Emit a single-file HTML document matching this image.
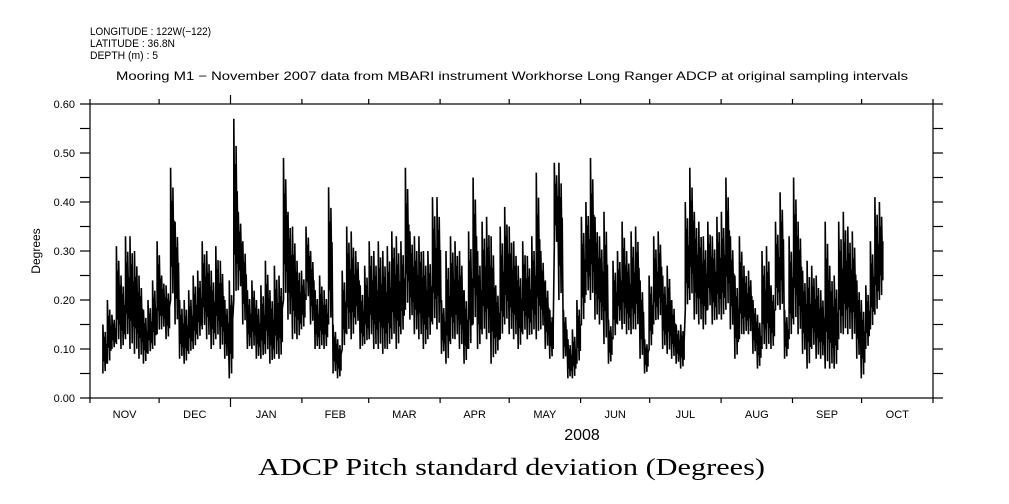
<!DOCTYPE html>
<html><head><meta charset="utf-8"><style>
body{margin:0;background:#fff;}
svg{display:block;}
text{font-family:"Liberation Sans",sans-serif;fill:#000;}
</style></head><body>
<svg id="chart" width="1009" height="504" viewBox="0 0 1009 504">
<g font-size="11">
<text x="90" y="35" textLength="121" lengthAdjust="spacingAndGlyphs">LONGITUDE : 122W(−122)</text>
<text x="90" y="47" textLength="85" lengthAdjust="spacingAndGlyphs">LATITUDE : 36.8N</text>
<text x="90" y="59" textLength="68" lengthAdjust="spacingAndGlyphs">DEPTH (m) : 5</text>
<text x="116" y="80" font-size="12" textLength="792" lengthAdjust="spacingAndGlyphs">Mooring M1 − November 2007 data from MBARI instrument Workhorse Long Ranger ADCP at original sampling intervals</text>
</g>
<rect x="90" y="104" width="843" height="294" fill="none" stroke="#000" stroke-width="1.2"/>
<g id="axes"></g>
<path id="series" fill="none" stroke="#000" stroke-width="1.6" stroke-linejoin="miter"/>
<text x="40" y="251" transform="rotate(-90 40 251)" text-anchor="middle" font-size="12">Degrees</text>
<text x="582" y="440" text-anchor="middle" font-size="16">2008</text>
<text x="258" y="475" font-size="24" textLength="507" lengthAdjust="spacingAndGlyphs" style="font-family:'Liberation Serif',serif">ADCP Pitch standard deviation (Degrees)</text>
</svg>
<script>
const monthLabels=["NOV","DEC","JAN","FEB","MAR","APR","MAY","JUN","JUL","AUG","SEP","OCT"];
const monthDays=[30,31,31,29,31,30,31,30,31,31,30,31];
const yTicks=[0,0.05,0.1,0.15,0.2,0.25,0.3,0.35,0.4,0.45,0.5,0.55,0.6];
const yLabels=["0.00","","0.10","","0.20","","0.30","","0.40","","0.50","","0.60"];
const binHigh=[.15,.20,.17,.31,.25,.33,.33,.30,.25,.18,.20,.24,.32,.25,.23,.47,.36,.20,.20,.22,.25,.26,.32,.30,.26,.31,.28,.20,.24,.57,.38,.32,.22,.24,.20,.23,.28,.22,.27,.25,.49,.38,.35,.28,.26,
.35,.30,.22,.25,.22,.43,.15,.12,.26,.35,.34,.30,.23,.27,.32,.30,.32,.30,.31,.34,.33,.32,.47,.34,.33,.33,.30,.30,.41,.41,.20,.30,.33,.32,.30,.22,.34,.45,.30,.36,.37,.33,.23,.35,.39,
.35,.32,.27,.32,.29,.33,.46,.30,.24,.18,.48,.48,.18,.12,.14,.20,.37,.40,.49,.37,.33,.38,.16,.28,.30,.36,.30,.34,.35,.24,.12,.25,.33,.34,.25,.27,.20,.15,.15,.40,.47,.38,.36,.33,
.36,.33,.37,.38,.45,.33,.25,.33,.27,.26,.20,.17,.30,.31,.23,.36,.42,.18,.33,.45,.36,.26,.28,.27,.25,.22,.36,.27,.25,.36,.38,.35,.34,.24,.20,.23,.32,.41,.40];
const binLow=[.05,.07,.10,.11,.10,.12,.10,.09,.08,.07,.09,.10,.13,.14,.12,.20,.15,.08,.07,.09,.10,.12,.14,.12,.10,.12,.10,.08,.04,.20,.22,.15,.10,.10,.08,.08,.09,.07,.08,.08,.20,.16,.12,.12,.14,
.20,.15,.10,.10,.10,.15,.05,.04,.10,.13,.12,.15,.10,.11,.12,.10,.10,.09,.10,.12,.10,.13,.18,.16,.13,.12,.10,.12,.15,.14,.09,.07,.11,.12,.10,.07,.10,.15,.10,.13,.12,.07,.09,.12,.15,
.13,.12,.10,.13,.12,.13,.12,.14,.10,.08,.31,.20,.08,.04,.04,.07,.15,.21,.20,.16,.15,.11,.07,.12,.15,.14,.13,.13,.14,.08,.05,.10,.15,.16,.10,.09,.08,.07,.06,.18,.20,.16,.15,.14,
.18,.15,.16,.16,.18,.14,.08,.12,.13,.13,.09,.06,.10,.10,.10,.18,.18,.08,.12,.15,.13,.09,.06,.10,.08,.08,.06,.06,.06,.12,.13,.13,.12,.08,.04,.10,.14,.17,.20];
const startDay=5.6, dayStep=1.96;
const X0=90,X1=933,Y0=398,Y1=104,TOTAL=366;
const xs=d=>X0+(X1-X0)*d/TOTAL;
const ys=v=>Y0-(Y0-Y1)*v/0.6;
const NS="http://www.w3.org/2000/svg";
const axes=document.getElementById('axes');
function line(x1,y1,x2,y2,name){const l=document.createElementNS(NS,'line');
l.setAttribute('x1',x1);l.setAttribute('y1',y1);l.setAttribute('x2',x2);l.setAttribute('y2',y2);
l.setAttribute('stroke','#000');l.setAttribute('stroke-width','1.2');


axes.appendChild(l);return l;}
function text(x,y,s,anchor,name){const t=document.createElementNS(NS,'text');
t.setAttribute('x',x);t.setAttribute('y',y);t.setAttribute('text-anchor',anchor);t.setAttribute('font-size','11');t.textContent=s;


axes.appendChild(t);}
yTicks.forEach((v,i)=>{const y=ys(v);
line(X0-10,y,X0,y,'y-tick');line(X1,y,X1+10,y,'y-tick-right');
if(yLabels[i])text(75,y+4,yLabels[i],'end','y-tick-label');});
let d=0;
for(let i=0;i<=monthDays.length;i++){const x=xs(d);const big=(i===2);
line(x,Y0,x,Y0+(big?9:5),'x-tick');line(x,Y1,x,Y1-(big?9:5),'x-tick-top');
if(i<monthDays.length){text(xs(d+monthDays[i]/2),418,monthLabels[i],'middle','month-label');d+=monthDays[i];}}
// each 2-day bin drawn as a dense cluster of vertical strokes between its low and high
const frac=[[0,1],[0.25,0.75],[0.05,0.85],[0.2,0.6]];
let p='';
binHigh.forEach((h,i)=>{const lo=binLow[i];const r=h-lo;
frac.forEach((f,k)=>{const x=xs(startDay+(i+k/frac.length)*dayStep).toFixed(1);
const a=ys(lo+r*f[0]).toFixed(1),b=ys(lo+r*f[1]).toFixed(1);
p+=((i||k)?'L':'M')+x+' '+a+'L'+x+' '+b;});});
document.getElementById('series').setAttribute('d',p);
</script>
</body></html>
